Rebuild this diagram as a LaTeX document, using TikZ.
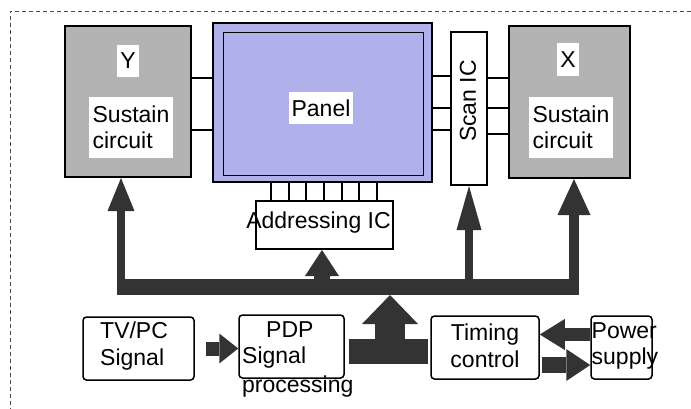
\documentclass[tikz,border=0pt]{standalone}
\usepackage{fontspec}
\setmainfont{Liberation Sans}
\usetikzlibrary{arrows.meta}
\definecolor{panelc}{RGB}{176,176,234}
\definecolor{sustc}{RGB}{179,179,179}
\definecolor{arrc}{RGB}{51,51,51}
\begin{document}
\begin{tikzpicture}[x=1pt,y=-1pt,
  font=\fontsize{23}{26.5}\selectfont,
  blk/.style={draw=black, line width=2pt, inner sep=0pt},
  lbl/.style={fill=white, inner xsep=3pt, inner ysep=0pt, align=left},
  txt/.style={inner sep=0pt},
  rbox/.style={draw=black, line width=1.5pt, rounded corners=3.5pt, inner sep=0pt, fill=white},
  wire/.style={line width=1.5pt},
  fat/.style={draw=arrc, line cap=butt},
  tipa/.style n args={2}{-{Triangle[width=#1pt,length=#2pt,line width=0pt]}}
]
\useasboundingbox (0,0) rectangle (691,408);
% dashed frame
\draw[black!70, line width=0.9pt, dash pattern=on 4pt off 3pt] (10,440) -- (10,11) -- (720,11);

% top row
\node[blk, fill=sustc, minimum width=126pt, minimum height=151pt] (ybox) at (128,101.5) {};
\node[lbl, minimum height=32pt] (ylab) at (128,61) {Y};
\node[lbl, minimum width=84pt, minimum height=61pt] (ysus) at (131,127.5) {Sustain\\circuit};

\node[blk, fill=panelc, minimum width=219pt, minimum height=159pt] (pout) at (322.5,102.5) {};
\node[draw=black, line width=1pt, minimum width=200pt, minimum height=143pt, inner sep=0pt] (pin) at (323,103.5) {};
\node[lbl, minimum height=32pt] (plab) at (321,108) {Panel};

\node[blk, fill=white, minimum width=36pt, minimum height=153pt] (scan) at (469,108.5) {};
\node[txt, rotate=90] (scantxt) at (468,101) {Scan IC};

\node[blk, fill=sustc, minimum width=121pt, minimum height=152pt] (xbox) at (569.5,102) {};
\node[lbl, minimum height=33pt] (xlab) at (568,59.5) {X};
\node[lbl, minimum width=84pt, minimum height=61pt] (xsus) at (571,127.5) {Sustain\\circuit};

\node[blk, fill=white, minimum width=137pt, minimum height=48pt] (addr) at (324.5,225) {};
\node[txt] (addrtxt) at (318.5,223) {Addressing IC};

% wires
\foreach \yy in {78,130} \draw[wire] (ybox.east |- 0,\yy) -- (pout.west |- 0,\yy);
\foreach \yy in {76,108,130} \draw[wire] (pout.east |- 0,\yy) -- (scan.west |- 0,\yy);
\foreach \yy in {78,108,134} \draw[wire] (scan.east |- 0,\yy) -- (xbox.west |- 0,\yy);
\foreach \xx in {271,289,306,324,342,359,377} \draw[wire] (pout.south -| \xx,0) -- (addr.north -| \xx,0);

% bottom row
\node[rbox, minimum width=111pt, minimum height=63pt] (tv) at (138.5,348.5) {};
\node[txt, align=left, anchor=west] (tvtxt) at (100,346) {TV/PC\\Signal};
\node[rbox, minimum width=105pt, minimum height=63pt] (pdp) at (291.5,346.5) {};
\node[txt, align=left, anchor=west] (pdptxt) at (242,359) {\hspace*{24pt}PDP\\Signal\\[2pt]processing};
\node[rbox, minimum width=108pt, minimum height=63pt] (timing) at (485,347.5) {};
\node[txt, align=center] (timtxt) at (485,346) {Timing\\control};
\node[rbox, minimum width=61pt, minimum height=63pt] (power) at (621.5,347.5) {};
\node[txt, align=left, anchor=west] (powtxt) at (591.5,346) {Power\\supply};

% bus
\coordinate (busL) at (117,287);
\coordinate (busR) at (579,287);
\coordinate (busjoin) at (390,295);
\draw[fat, line width=16pt] (busL) -- (busR);
\draw[fat, line width=8pt, tipa={27}{33}] (121,287) -- (ybox.south -| 121,0);
\draw[fat, line width=16pt, tipa={34}{26}] (322,287) -- (addr.south -| 322,0);
\draw[fat, line width=8pt, tipa={25}{44}] (469,287) -- (scan.south);
\draw[fat, line width=10pt, tipa={33}{36}] (574,287) -- (xbox.south -| 574,0);

% T shape
\draw[fat, line width=25pt, shorten <=4pt, shorten >=2pt] (pdp.east |- 0,351.5) -- (timing.west |- 0,351.5);
\draw[fat, line width=30pt, tipa={56}{29}] (390,351.5) -- (busjoin);

% small arrows
\draw[fat, line width=14pt, tipa={30}{19}, shorten <=11pt] (tv.east |- 0,348.5) -- (pdp.west |- 0,348.5);
\draw[fat, line width=13pt, tipa={31}{25}] (power.west |- 0,334.5) -- (timing.east |- 0,334.5);
\draw[fat, line width=16pt, tipa={32}{24}, shorten <=2pt] (timing.east |- 0,365) -- (power.west |- 0,365);
\end{tikzpicture}
\end{document}
